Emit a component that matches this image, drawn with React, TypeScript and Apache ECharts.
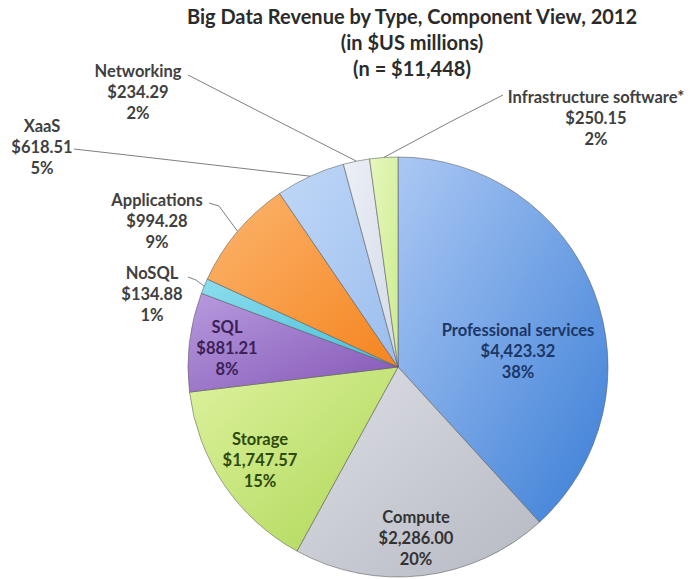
import React, { useEffect, useRef } from 'react';
import * as echarts from 'echarts';

const categories = [
  'Professional services',
  'Compute',
  'Storage',
  'SQL',
  'NoSQL',
  'Applications',
  'XaaS',
  'Networking',
  'Infrastructure software*',
];
const revenues = [4423.32, 2286.0, 1747.57, 881.21, 134.88, 994.28, 618.51, 234.29, 250.15];
const titleLines = [
  'Big Data Revenue by Type, Component View, 2012',
  '(in $US millions)',
  '(n = $11,448)',
];

// styling (not data)
const sliceColors = [
  ['#abc8f4', '#3b7ed6'],
  ['#dddee4', '#b6b9c3'],
  ['#ddf29e', '#aed656'],
  ['#b89ade', '#8357b6'],
  ['#8cdded', '#45bfd8'],
  ['#fcb56e', '#f5841f'],
  ['#c0d8f7', '#9bbdee'],
  ['#eceff6', '#d3dae8'],
  ['#e6f7bc', '#cdeb8f'],
];
const labelColors = ['#1c3766', '#333333', '#2d4a0a', '#3b2157', '#404040', '#404040', '#404040', '#404040', '#404040'];
const insideLabel = [true, true, true, true, false, false, false, false, false];
const labelPos: number[][] = [
  [518, 351],
  [416, 538],
  [260, 460],
  [227, 348],
  [152, 294],
  [157, 221],
  [42, 147],
  [138, 92],
  [596, 118],
];
const lineEnd: (number[][] | null)[] = [
  null,
  null,
  null,
  null,
  [[196, 280], [188, 277]],
  [[219, 206], [209, 203]],
  [[140, 156.5], [74, 149]],
  [[260, 112], [188, 75]],
  [[450, 122], [503, 95]],
];

const FONT = 'Lato, "Open Sans", sans-serif';

function fmtMoney(v: number) {
  return '$' + v.toLocaleString('en-US', { minimumFractionDigits: 2, maximumFractionDigits: 2 });
}

export default function App() {
  const ref = useRef<HTMLDivElement>(null);
  useEffect(() => {
    document.body.style.margin = '0';
    if (!ref.current) return;
    const chart = echarts.init(ref.current, null, { renderer: 'svg' });
    const data = categories.map((name, i) => ({
      name,
      value: revenues[i],
      itemStyle: {
        color: new echarts.graphic.LinearGradient(0, 0, 1, 1, [
          { offset: 0, color: sliceColors[i][0] },
          { offset: 1, color: sliceColors[i][1] },
        ]),
      },
      label: {
        position: insideLabel[i] ? 'inside' : 'outside',
        color: labelColors[i],
      },
      labelLine: { show: !insideLabel[i] },
    }));
    chart.setOption({
      animation: false,
      backgroundColor: '#ffffff',
      title: {
        text: titleLines.join('\n'),
        left: 412,
        top: 3,
        padding: 0,
        textAlign: 'center',
        textStyle: {
          fontFamily: FONT,
          fontSize: 20,
          fontWeight: 'bold',
          color: '#2b2b2b',
          lineHeight: 26,
        },
      },
      series: [
        {
          type: 'pie',
          center: [398, 367],
          radius: 210,
          startAngle: 90,
          clockwise: true,
          avoidLabelOverlap: false,
          itemStyle: { borderColor: 'rgba(90,90,90,0.55)', borderWidth: 1 },
          label: {
            show: true,
            fontFamily: FONT,
            fontSize: 16.5,
            fontWeight: 'bold',
            lineHeight: 21,
            align: 'center',
            formatter: (p: any) => `${p.name}\n${fmtMoney(p.value)}\n${Math.round(p.percent)}%`,
          },
          labelLine: {
            show: true,
            lineStyle: { color: '#7f7f7f', width: 1 },
          },
          labelLayout: (p: any) => {
            const i = p.dataIndex;
            const pos = labelPos[i];
            const res: any = { x: pos[0], y: pos[1], align: 'center', verticalAlign: 'middle' };
            const le = lineEnd[i];
            if (le && p.labelLinePoints) {
              res.labelLinePoints = [p.labelLinePoints[0], le[0], le[1]];
            }
            return res;
          },
          data,
        },
      ],
    });
    return () => chart.dispose();
  }, []);
  return <div ref={ref} style={{ width: 690, height: 579 }} />;
}
